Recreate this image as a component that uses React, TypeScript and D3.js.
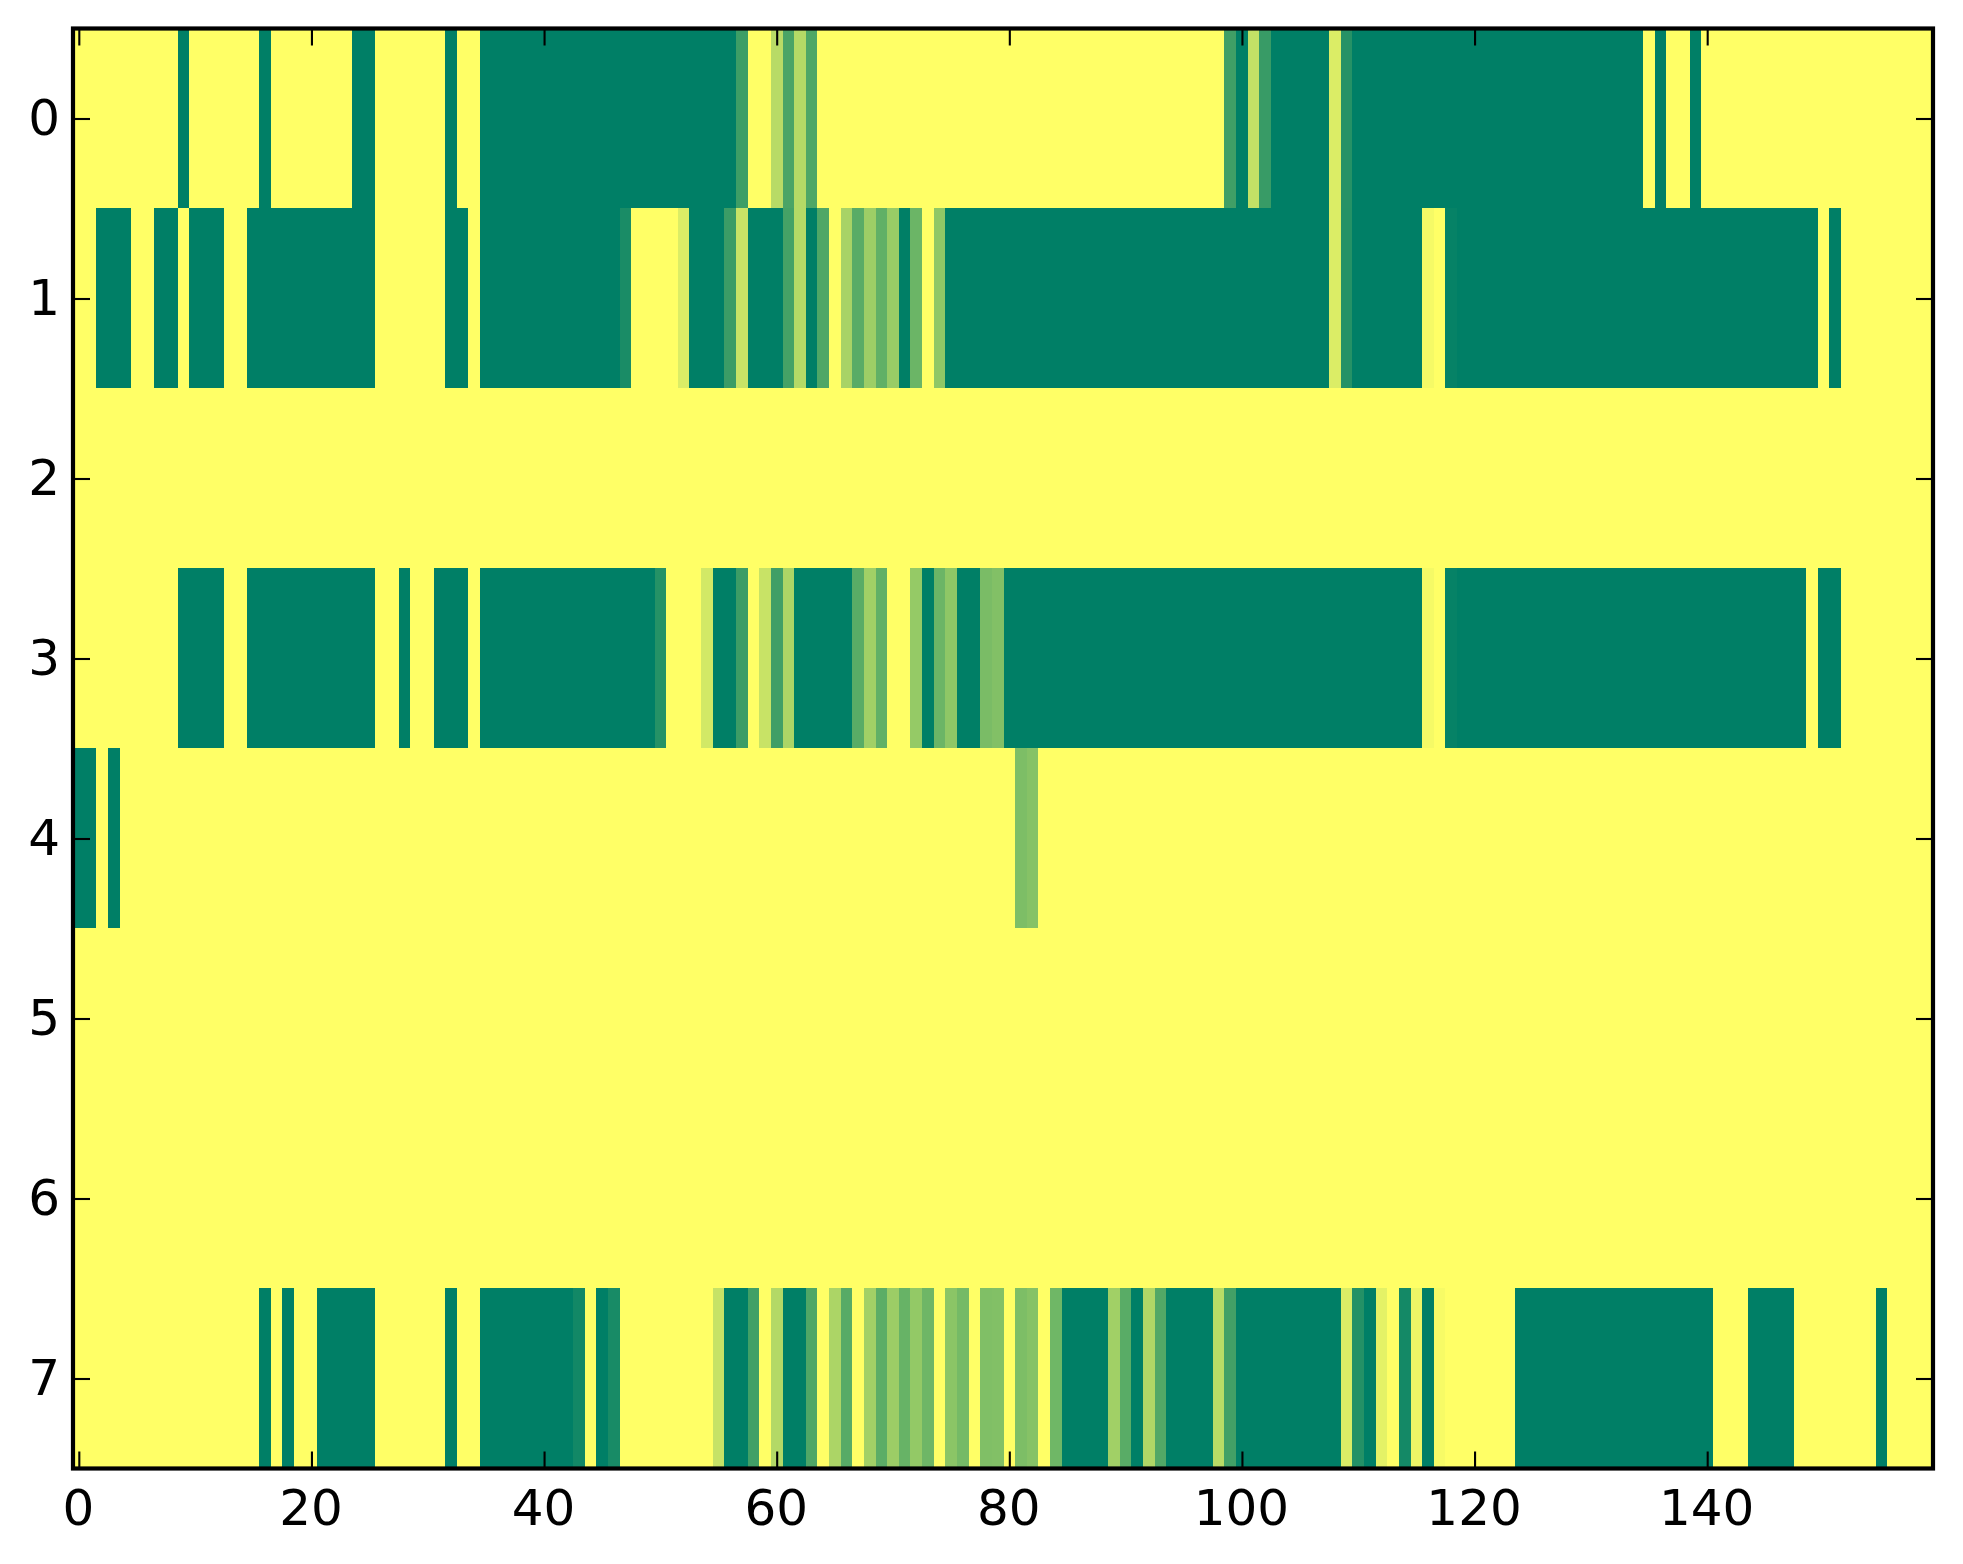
// @ts-nocheck
import React, { useEffect, useRef } from 'react';
import * as d3 from 'd3';

// each run is [first column, last column, value]
const row0 = [
    [9, 9, 1], [16, 16, 1], [24, 25, 1], [32, 32, 1], [35, 56, 1], [57, 57, 0.76],
    [60, 60, 0.28], [61, 61, 0.71], [62, 62, 0.29], [63, 63, 0.69],
    [99, 99, 0.75], [100, 100, 1], [101, 101, 0.235], [102, 102, 0.78], [103, 107, 1],
    [108, 108, 0.14], [109, 109, 0.85], [110, 134, 1], [136, 136, 1], [139, 139, 1]
];
const row1 = [
    [2, 4, 1], [7, 8, 1], [10, 12, 1], [15, 25, 1], [32, 33, 1], [35, 46, 1], [47, 47, 0.9],
    [52, 52, 0.14], [53, 55, 1], [56, 56, 0.77], [57, 57, 0.215], [58, 60, 1],
    [61, 61, 0.73], [62, 62, 0.29], [63, 63, 1], [64, 64, 0.69], [66, 66, 0.34], [67, 67, 0.65],
    [68, 68, 0.385], [69, 69, 0.62], [70, 70, 0.4], [71, 71, 1], [72, 72, 0.58], [74, 74, 0.44],
    [75, 107, 1], [108, 108, 0.14], [109, 109, 0.855], [110, 115, 1], [116, 116, 0.04],
    [118, 118, 0.975], [119, 149, 1], [151, 151, 1]
];
const row2 = [];
const row3 = [
    [9, 12, 1], [15, 25, 1], [28, 28, 1], [31, 33, 1], [35, 49, 1], [50, 50, 0.855],
    [54, 54, 0.175], [55, 56, 1], [57, 57, 0.765], [59, 59, 0.215], [60, 60, 0.75], [61, 61, 0.325],
    [62, 66, 1], [67, 67, 0.65], [68, 68, 0.37], [69, 69, 0.62], [72, 72, 0.415], [73, 73, 1],
    [74, 74, 0.575], [75, 75, 0.44], [76, 77, 1], [78, 78, 0.52], [79, 79, 0.49], [80, 115, 1],
    [116, 116, 0.04], [118, 118, 0.975], [119, 148, 1], [150, 151, 1]
];
const row4 = [[0, 1, 1], [3, 3, 1], [81, 81, 0.51], [82, 82, 0.475]];
const row5 = [];
const row6 = [];
const row7 = [
    [16, 16, 1], [18, 18, 1], [21, 25, 1], [32, 32, 1], [35, 42, 1], [43, 43, 0.93], [45, 45, 1],
    [46, 46, 0.905], [55, 55, 0.225], [56, 57, 1], [58, 58, 0.745], [60, 60, 0.3], [61, 62, 1],
    [63, 63, 0.69], [65, 65, 0.325], [66, 66, 0.66], [68, 68, 0.365], [69, 69, 0.64], [70, 70, 0.39],
    [71, 71, 0.595], [72, 72, 0.425], [73, 73, 0.57], [75, 75, 0.455], [76, 76, 0.54], [78, 78, 0.5],
    [79, 79, 0.49], [81, 81, 0.51], [82, 82, 0.475], [84, 84, 0.565], [85, 88, 1], [89, 89, 0.37],
    [90, 90, 0.65], [91, 91, 1], [92, 92, 0.31], [93, 93, 0.68], [94, 97, 1], [98, 98, 0.275],
    [99, 99, 0.74], [100, 108, 1], [109, 109, 0.14], [110, 110, 0.86], [111, 111, 1], [112, 112, 0.105],
    [114, 114, 0.92], [115, 115, 0.07], [116, 116, 1], [117, 117, 0.03], [124, 140, 1], [144, 147, 1],
    [155, 155, 1]
];
const rows = [row0, row1, row2, row3, row4, row5, row6, row7];

const xTicks = [0, 20, 40, 60, 80, 100, 120, 140];
const yTicks = [0, 1, 2, 3, 4, 5, 6, 7];

export default function App() {
    const ref = useRef(null);

    useEffect(() => {
        const w = 1860;
        const h = 1440;
        const margin = { top: 28.5, left: 73 };

        // the cells run about a pixel past the frame over the full width
        const scale_x = d3.scaleLinear().domain([-0.5, 159.5]).range([0, w + 1]);
        const scale_y = d3.scaleLinear().domain([-0.5, 7.5]).range([0, h]);
        const color = d3.scaleLinear().domain([0, 1]).range(['#ffff66', '#007f66']);

        const svg = d3.select(ref.current);
        svg.selectAll('*').remove();

        const chart = svg.append('g')
            .attr('transform', `translate(${margin.left}, ${margin.top})`);

        chart.append('rect')
            .attr('width', w)
            .attr('height', h)
            .attr('fill', color(0));

        rows.forEach((runs, i) => {
            chart.append('g')
                .attr('transform', 'translate(0, -0.5)')
                .attr('shape-rendering', 'crispEdges')
                .selectAll('rect')
                .data(runs)
                .join('rect')
                .attr('x', (d) => Math.round(scale_x(d[0] - 0.5)))
                .attr('y', scale_y(i - 0.5))
                .attr('width', (d) => Math.round(scale_x(d[1] + 0.5)) - Math.round(scale_x(d[0] - 0.5)))
                .attr('height', scale_y(i + 0.5) - scale_y(i - 0.5))
                .attr('fill', (d) => color(d[2]));
        });

        // ticks point inwards on all four sides, labels only left and bottom
        const style = (g) => {
            g.select('.domain').remove();
            g.selectAll('line').attr('stroke', '#000').attr('stroke-width', 2.1);
            g.selectAll('text')
                .attr('fill', '#000')
                .style('font-family', '"DejaVu Sans"')
                .style('font-size', '50px');
        };

        chart.append('g')
            .attr('transform', `translate(0, ${h})`)
            .call(d3.axisBottom(scale_x).tickValues(xTicks).tickSizeInner(-17).tickSizeOuter(0).tickPadding(21))
            .call(style)
            .call((g) => g.selectAll('text').attr('dx', -1));
        chart.append('g')
            .call(d3.axisTop(scale_x).tickValues(xTicks).tickSizeInner(-17).tickSizeOuter(0).tickFormat(''))
            .call(style);
        chart.append('g')
            .call(d3.axisLeft(scale_y).tickValues(yTicks).tickSizeInner(-17).tickSizeOuter(0).tickPadding(13))
            .call(style);
        chart.append('g')
            .attr('transform', `translate(${w}, 0)`)
            .call(d3.axisRight(scale_y).tickValues(yTicks).tickSizeInner(-17).tickSizeOuter(0).tickFormat(''))
            .call(style);

        chart.append('rect')
            .attr('width', w)
            .attr('height', h)
            .attr('fill', 'none')
            .attr('stroke', '#000')
            .attr('stroke-width', 4.2);
    }, []);

    return (
        <svg
            ref={ref}
            width={1963}
            height={1564}
            style={{ position: 'absolute', left: 0, top: 0 }}
        />
    );
}
